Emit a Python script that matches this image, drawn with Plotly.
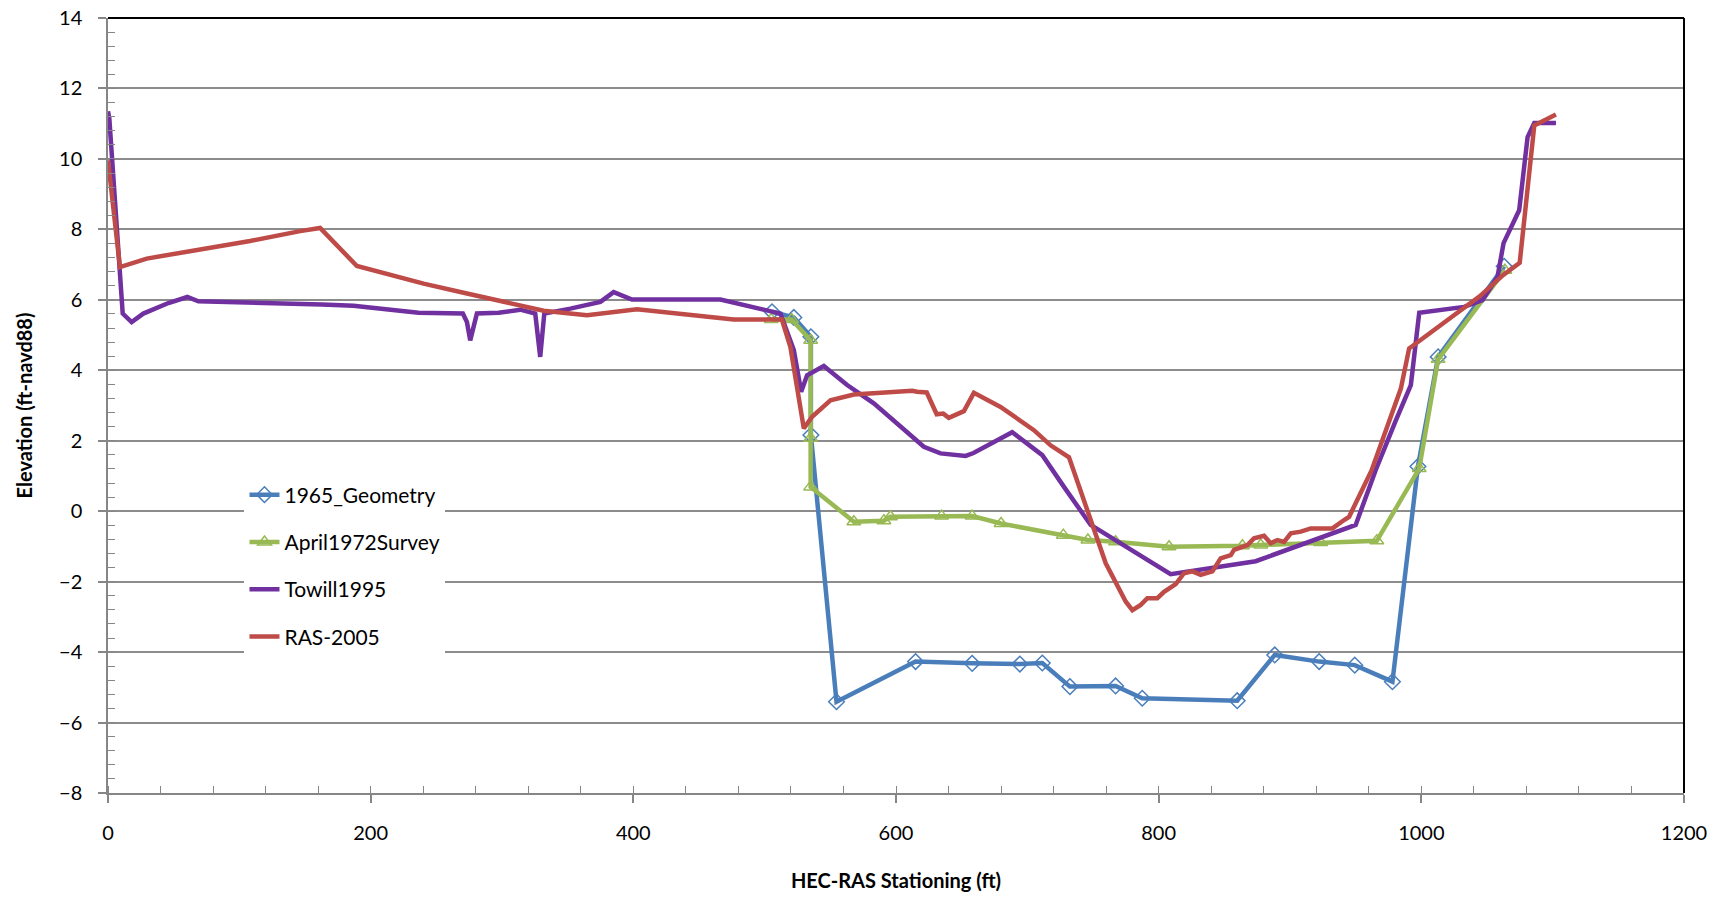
import plotly.graph_objects as go

# ---- data ----
g1965_x = [505.6, 522.2, 535.2, 535.2, 554.7, 614.9, 658.0, 694.3, 711.4, 732.4, 767.2, 787.5,
           859.8, 888.4, 922.2, 949.3, 978.0, 997.4, 1012.8, 1063.1]
g1965_y = [5.66, 5.50, 4.95, 2.16, -5.41, -4.27, -4.32, -4.34, -4.31, -4.98, -4.96, -5.31,
           -5.38, -4.08, -4.27, -4.37, -4.84, 1.27, 4.38, 6.95]

a1972_x = [505.0, 520.5, 535.0, 535.0, 535.0, 567.9, 590.8, 595.8, 634.7, 658.0, 680.0, 727.4,
           746.1, 767.2, 807.9, 863.8, 877.7, 923.4, 966.1, 998.4, 1012.8, 1063.6]
a1972_y = [5.44, 5.44, 4.85, 2.07, 0.69, -0.30, -0.27, -0.16, -0.14, -0.14, -0.35, -0.68,
           -0.82, -0.87, -1.01, -0.98, -0.96, -0.89, -0.84, 1.21, 4.31, 6.84]

t1995_x = [0, 1, 11.2, 18, 26.9, 46, 60.4, 68.8, 162.8, 186.9, 236.4, 270.2, 273.3, 275.8, 280.9,
           297.4, 313.9, 325.3, 329.1, 332.2, 352, 374.9, 385, 399, 466.3, 479, 512, 522.2, 527.8,
           532.3, 545, 562.8, 583.1, 621.2, 633.9, 653, 659, 688.5, 711.4, 727.9, 748.2, 809.1,
           839.6, 873.9, 950, 965.3, 980.6, 992, 998.4, 1032.6, 1046.6, 1058, 1062.6, 1074.5,
           1080.9, 1086, 1102.5]
t1995_y = [11.35, 11.15, 5.61, 5.37, 5.61, 5.91, 6.08, 5.96, 5.87, 5.83, 5.63, 5.61, 5.37, 4.85, 5.61,
           5.63, 5.72, 5.61, 4.38, 5.61, 5.75, 5.94, 6.22, 6.01, 6.01, 5.89, 5.61, 4.57, 3.39,
           3.86, 4.12, 3.58, 3.06, 1.83, 1.64, 1.57, 1.65, 2.24, 1.59, 0.69, -0.39, -1.79,
           -1.62, -1.42, -0.39, 1.17, 2.58, 3.58, 5.63, 5.80, 5.99, 6.65, 7.61, 8.54,
           10.62, 11.02, 11.02]

r2005_x = [0, 9.1, 29.5, 108.2, 146.3, 161.5, 189.5, 240.3, 273.3, 331.7, 364.7, 402.8, 476.4,
           513.1, 519.6, 529.8, 536.1, 550.1, 567.9, 612.3, 616, 623.4, 631, 636, 640.2, 651.7,
           659.3, 679.6, 705, 717.7, 731.7, 745.7, 749.8, 759.7, 775, 780, 786.3, 791.4, 799,
           804.1, 813, 819.3, 825.7, 832, 840.9, 847.2, 854.9, 857.4, 867.6, 872.6, 880.2, 885.3,
           890.4, 895.5, 900.6, 908.2, 915.8, 932.3, 941.2, 945, 962, 984.4, 990.7, 1044.4,
           1062.2, 1074.9, 1086, 1102.5]
r2005_y = [9.96, 6.93, 7.17, 7.67, 7.95, 8.04, 6.96, 6.46, 6.18, 5.69, 5.56, 5.73, 5.44,
           5.44, 4.66, 2.35, 2.68, 3.15, 3.31, 3.42, 3.39, 3.37, 2.75, 2.77, 2.65, 2.84,
           3.36, 2.96, 2.30, 1.87, 1.53, 0.03, -0.39, -1.48, -2.57, -2.81, -2.66, -2.47, -2.47,
           -2.29, -2.07, -1.76, -1.71, -1.81, -1.71, -1.34, -1.25, -1.10, -0.96, -0.77, -0.70, -0.91,
           -0.82, -0.87, -0.63, -0.58, -0.49, -0.49, -0.25, -0.16, 1.15, 3.48, 4.62, 6.10,
           6.70, 7.05, 10.95, 11.26]

x_ticks = [0, 200, 400, 600, 800, 1000, 1200]
y_ticks = [-8, -6, -4, -2, 0, 2, 4, 6, 8, 10, 12, 14]

FONT = "Lato, 'Open Sans', sans-serif"
AX = "#868686"
LW = 4.5

fig = go.Figure()
fig.add_trace(go.Scatter(x=g1965_x, y=g1965_y, name="1965_Geometry", mode="lines+markers",
                         legendgroup="a",
                         line=dict(color="#4A7EBB", width=LW),
                         marker=dict(symbol="diamond-open", size=12, color="#4A7EBB",
                                     line=dict(width=1.5, color="#4A7EBB"))))
fig.add_trace(go.Scatter(x=a1972_x, y=a1972_y, name="April1972Survey", mode="lines+markers",
                         legendgroup="b",
                         line=dict(color="#98B954", width=LW),
                         marker=dict(symbol="triangle-up-open", size=12, color="#98B954",
                                     line=dict(width=1.5, color="#98B954"))))
fig.add_trace(go.Scatter(x=t1995_x, y=t1995_y, name="Towill1995", mode="lines",
                         legendgroup="c",
                         line=dict(color="#7030A0", width=LW)))
fig.add_trace(go.Scatter(x=r2005_x, y=r2005_y, name="RAS-2005", mode="lines",
                         legendgroup="d",
                         line=dict(color="#BE4B48", width=LW)))

fig.update_layout(
    width=1727, height=898,
    margin=dict(l=108, r=43, t=18, b=105, autoexpand=False),
    paper_bgcolor="white", plot_bgcolor="white",
    font=dict(family=FONT, size=20, color="black"),
    showlegend=True,
    legend=dict(x=0.0866, y=0.411, xanchor="left", yanchor="top",
                bgcolor="white", borderwidth=0, tracegroupgap=17,
                font=dict(family=FONT, size=21, color="black")),
    xaxis=dict(range=[0, 1200], tickvals=x_ticks, showgrid=False, zeroline=False,
               automargin=False,
               showline=True, linecolor=AX, linewidth=1.5,
               ticks="outside", ticklen=8, tickcolor=AX, tickwidth=1.5,
               ticklabelstandoff=13,
               minor=dict(dtick=40, ticks="inside", ticklen=7, tickcolor=AX, tickwidth=1.2, showgrid=False),
               title=dict(text="<b>HEC-RAS Stationing (ft)</b>", font=dict(size=20), standoff=31)),
    yaxis=dict(range=[-8, 14], tickvals=y_ticks, showgrid=True, gridcolor="#8C8C8C", gridwidth=1.5,
               automargin=False,
               zeroline=False, showline=True, linecolor=AX, linewidth=1.5,
               ticks="outside", ticklen=8, tickcolor=AX, tickwidth=1.5,
               ticklabelstandoff=12,
               minor=dict(dtick=0.4, ticks="inside", ticklen=7, tickcolor=AX, tickwidth=1.2, showgrid=False),
               title=dict(text="<b>Elevation (ft-navd88)</b>", font=dict(size=20), standoff=21)),
    shapes=[
        dict(type="line", xref="paper", yref="paper", x0=0, x1=1, y0=1, y1=1,
             line=dict(color="black", width=2)),
        dict(type="line", xref="paper", yref="paper", x0=1, x1=1, y0=0, y1=1,
             line=dict(color="black", width=2)),
    ],
)

fig.write_html("out.html", config={"displayModeBar": False},
               post_script="document.body.style.margin='0';document.body.style.overflow='hidden';")
